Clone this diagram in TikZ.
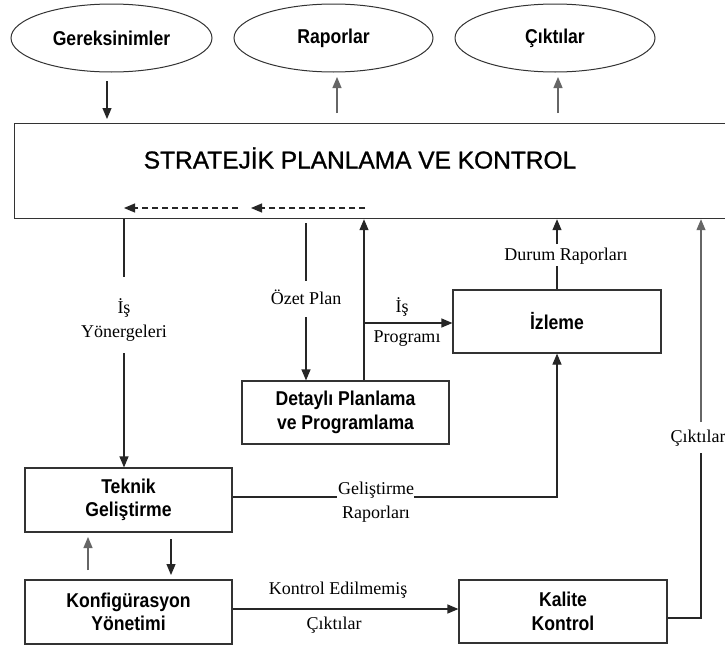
\documentclass[tikz,border=0pt]{standalone}
\usepackage{fontspec}
\setmainfont{Liberation Serif}
\newfontfamily\arialf{Liberation Sans}
\newfontfamily\arialn[FakeStretch=0.88]{Liberation Sans}
\newfontfamily\arialt[FakeBold=1]{Liberation Sans}
\usetikzlibrary{arrows.meta,shapes.geometric}
\begin{document}
\begin{tikzpicture}[x=1pt,y=-1pt,
  ln/.style={line width=1.2pt, draw=black!85},
  arr/.style={ln, -{Triangle[length=11pt,width=9pt]}},
  gryarr/.style={line width=1.2pt, draw=black!60, -{Triangle[length=11pt,width=9pt]}},
  dsharr/.style={arr, dash pattern=on 6pt off 4pt},
  ell/.style={ellipse, draw=black!80, line width=1pt, inner sep=0pt, font=\arialn\bfseries\fontsize{20}{24}\selectfont},
  box/.style={draw=black!80, line width=1.2pt, inner sep=0pt, align=center, font=\arialn\bfseries\fontsize{20}{23.5}\selectfont},
  lbl/.style={inner sep=0pt, align=center, font=\fontsize{18}{24}\selectfont}
]
\fill[white] (0,0) rectangle (725,648);
\useasboundingbox (0,0) rectangle (725,648);

% ellipses
\node[ell, minimum width=201pt, minimum height=68pt] (req) at (111.5,38) {Gereksinimler};
\node[ell, minimum width=199pt, minimum height=68pt] (rap) at (333.5,38) {Raporlar};
\node[ell, minimum width=200pt, minimum height=68pt] (cik) at (555,38) {Çıktılar};

% main box
\node[box, anchor=north west, minimum width=730pt, minimum height=95pt] (spc) at (14,123) {};
\node[font=\arialt\fontsize{24.5}{29}\selectfont, inner sep=0pt] (title) at (360,158) {STRATEJİK PLANLAMA VE KONTROL};

% top arrows
\coordinate (g1) at (107,81); \coordinate (g2) at (107,119);
\draw[arr] (g1) -- (g2);
\coordinate (r1) at (337,113); \coordinate (r2) at (337,77);
\draw[gryarr] (r1) -- (r2);
\coordinate (c1) at (558,113); \coordinate (c2) at (558,77);
\draw[gryarr] (c1) -- (c2);

% dashed arrows
\coordinate (d1a) at (365,208); \coordinate (d1b) at (251,208);
\coordinate (d2a) at (238,208); \coordinate (d2b) at (124,208);
\draw[dsharr] (d1a) -- (d1b);
\draw[dsharr] (d2a) -- (d2b);

% boxes
\node[box, minimum width=207pt, minimum height=63pt] (det) at (345.5,412.5) {Detaylı Planlama\\ve Programlama};
\node[box, minimum width=208pt, minimum height=63pt] (izl) at (557,321.5) {İzleme};
\node[box, minimum width=207pt, minimum height=64pt] (tek) at (128.5,500) {Teknik\\Geliştirme};
\node[box, minimum width=207pt, minimum height=64pt] (kon) at (128.5,612) {Konfigürasyon\\Yönetimi};
\node[box, minimum width=208pt, minimum height=63pt] (kal) at (563,611.5) {Kalite\\Kontrol};

% Is Yonergeleri
\coordinate (is1) at (124,277); \coordinate (is2) at (124,353);
\draw[ln] (spc.south -| is1) -- (is1);
\draw[arr] (is2) -- (tek.north -| is2);
\node[lbl] (lisy) at (124,320) {İş\\Yönergeleri};

% Ozet Plan
\coordinate (oz0) at (306,223); \coordinate (oz1) at (306,281); \coordinate (oz2) at (306,317);
\draw[ln] (oz0) -- (oz1);
\draw[arr] (oz2) -- (det.north -| oz2);
\node[lbl] (lozet) at (306,297) {Özet Plan};

% Is Programi
\coordinate (px) at (364,323);
\draw[arr] (det.north -| px) -- (spc.south -| px);
\draw[arr] (px) -- (izl.west |- px);
\node[lbl] (lis) at (402,307) {İş};
\node[lbl] (lprog) at (407,339) {Programı};

% Durum Raporlari
\coordinate (dr1) at (557,266); \coordinate (dr2) at (557,244);
\draw[ln] (izl.north) -- (dr1);
\draw[arr] (dr2) -- (spc.south -| dr2);
\node[lbl] (ldr) at (566,256) {Durum Raporları};

% Gelistirme Raporlari
\coordinate (gr1) at (337,497); \coordinate (gr2) at (414,497); \coordinate (gr3) at (557,497);
\draw[ln] (tek.east |- gr1) -- (gr1);
\draw[arr] (gr2) -- (gr3) -- (izl.south);
\node[lbl] (lgr) at (376,502) {Geliştirme\\Raporları};

% Teknik <-> Konfig
\coordinate (u1) at (88,570); \coordinate (u2) at (88,537);
\draw[gryarr] (u1) -- (u2);
\coordinate (v1) at (171,539); \coordinate (v2) at (171,575);
\draw[arr] (v1) -- (v2);

% Konfig -> Kalite
\coordinate (kk) at (300,609);
\draw[arr] (kon.east |- kk) -- (kal.west |- kk);
\node[lbl] (lke) at (338,590) {Kontrol Edilmemiş};
\node[lbl] (lkc) at (334,625) {Çıktılar};

% Kalite -> main box
\coordinate (rr) at (701,618); \coordinate (rc1) at (701,453); \coordinate (rc2) at (701,422);
\draw[ln] (kal.east |- rr) -- (rr) -- (rc1);
\draw[gryarr] (rc2) -- (spc.south -| rc2);
\node[lbl] (lrc) at (698,438) {Çıktılar};
\end{tikzpicture}
\end{document}
